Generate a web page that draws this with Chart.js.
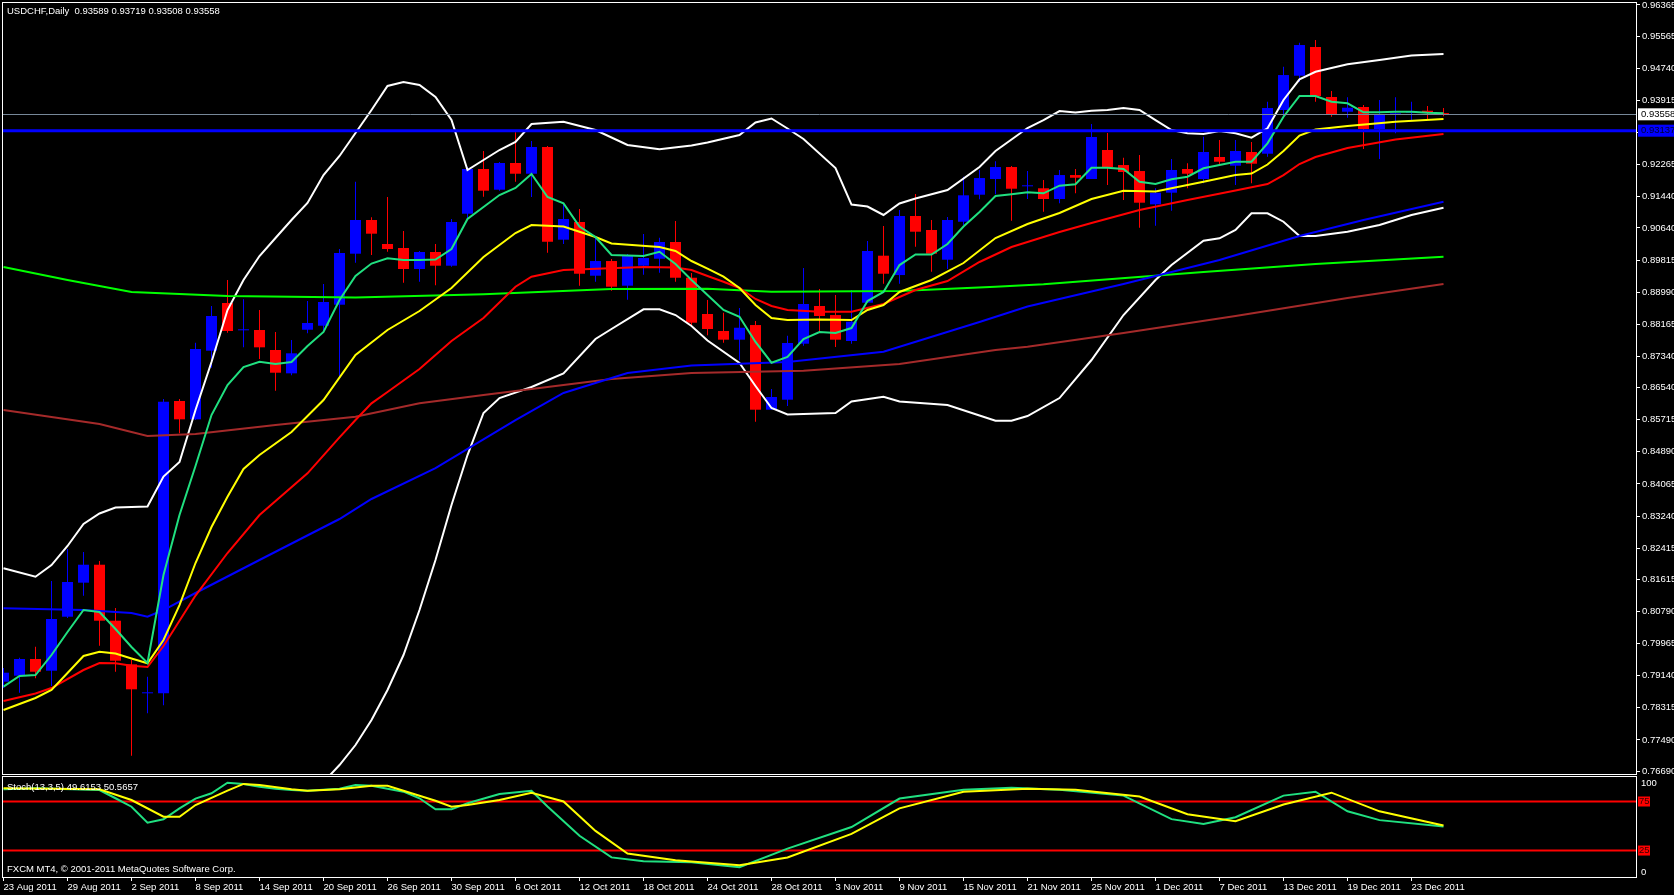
<!DOCTYPE html>
<html>
<head>
<meta charset="utf-8">
<script src="https://cdn.jsdelivr.net/npm/chart.js@4.4.1/dist/chart.umd.min.js"></script>
<style>
  html, body { margin: 0; padding: 0; background: #000; }
  body { width: 1674px; height: 895px; position: relative; overflow: hidden; }
  #mainWrap { position: absolute; left: 0; top: 0; width: 1674px; height: 775px; }
  #stochWrap { position: absolute; left: 0; top: 776px; width: 1674px; height: 119px; }
</style>
</head>
<body>
<div id="mainWrap"><canvas id="mainChart"></canvas></div>
<div id="stochWrap"><canvas id="stochChart"></canvas></div>
<script>
// USDCHF daily, 23 Aug 2011 .. 27 Dec 2011 (bar index 0..90)
const symbolTitle = 'USDCHF,Daily  0.93589 0.93719 0.93508 0.93558';
const stochTitle = 'Stoch(13,3,5) 49.6153 50.5657';
const footerText = 'FXCM MT4, \u00A9 2001-2011 MetaQuotes Software Corp.';

const dateTickBars = [0, 4, 8, 12, 16, 20, 24, 28, 32, 36, 40, 44, 48, 52, 56, 60, 64, 68, 72, 76, 80, 84, 88];
const dateLabels = ['23 Aug 2011', '29 Aug 2011', '2 Sep 2011', '8 Sep 2011', '14 Sep 2011', '20 Sep 2011',
  '26 Sep 2011', '30 Sep 2011', '6 Oct 2011', '12 Oct 2011', '18 Oct 2011', '24 Oct 2011', '28 Oct 2011',
  '3 Nov 2011', '9 Nov 2011', '15 Nov 2011', '21 Nov 2011', '25 Nov 2011', '1 Dec 2011', '7 Dec 2011',
  '13 Dec 2011', '19 Dec 2011', '23 Dec 2011'];

const priceTicks = [0.96365, 0.95565, 0.94740, 0.93915, 0.93090, 0.92265, 0.91440, 0.90640, 0.89815, 0.88990,
  0.88165, 0.87340, 0.86540, 0.85715, 0.84890, 0.84065, 0.83240, 0.82415, 0.81615, 0.80790, 0.79965,
  0.79140, 0.78315, 0.77490, 0.76690];

const opens = [0.78987, 0.79141, 0.79570, 0.79269, 0.80656, 0.81530, 0.81991, 0.80553, 0.79433, 0.78689,
  0.78689, 0.86195, 0.85725, 0.87487, 0.88712, 0.88011, 0.88019, 0.87505, 0.86906, 0.88026,
  0.88129, 0.88668, 0.89978, 0.90843, 0.90227, 0.90124, 0.89585, 0.90022, 0.89670, 0.91005,
  0.92153, 0.91622, 0.92307, 0.92032, 0.92718, 0.90338, 0.90792, 0.89413, 0.89790, 0.89157,
  0.89670, 0.89849, 0.90279, 0.89361, 0.88429, 0.87993, 0.87770, 0.88146, 0.85972, 0.86229,
  0.87667, 0.88635, 0.88403, 0.87736, 0.88720, 0.89927, 0.89430, 0.90946, 0.90587, 0.89824,
  0.90799, 0.91493, 0.91897, 0.92204, 0.91709, 0.91658, 0.91383, 0.91998, 0.91897, 0.92641,
  0.92255, 0.92101, 0.91246, 0.91545, 0.92153, 0.91897, 0.92461, 0.92238, 0.92590, 0.92546,
  0.93668, 0.94549, 0.95286, 0.94002, 0.93624, 0.93745, 0.93180, 0.93540, 0.93599, 0.93650,
  0.93589];
const highs = [0.79338, 0.79603, 0.79886, 0.81573, 0.82395, 0.82318, 0.82086, 0.80879, 0.79544, 0.79115,
  0.86247, 0.86247, 0.87693, 0.88635, 0.89303, 0.88807, 0.88532, 0.87968, 0.87762, 0.88763,
  0.89200, 0.90099, 0.91827, 0.90912, 0.91434, 0.90561, 0.90047, 0.90227, 0.90869, 0.92204,
  0.92615, 0.92333, 0.93096, 0.92872, 0.92744, 0.91254, 0.91126, 0.90389, 0.89842, 0.89970,
  0.90484, 0.90389, 0.90817, 0.89482, 0.88789, 0.88463, 0.88583, 0.88249, 0.86504, 0.87873,
  0.89610, 0.89072, 0.88917, 0.89046, 0.90304, 0.90689, 0.91100, 0.91511, 0.90843, 0.90920,
  0.91955, 0.92127, 0.92351, 0.92230, 0.92101, 0.91871, 0.92127, 0.92153, 0.93308, 0.93078,
  0.92443, 0.92512, 0.91658, 0.92410, 0.92299, 0.92983, 0.92898, 0.92898, 0.92847, 0.93881,
  0.94780, 0.95397, 0.95466, 0.94156, 0.93994, 0.93796, 0.93925, 0.93994, 0.93881, 0.93771,
  0.93719];
const lows = [0.78825, 0.78705, 0.79074, 0.78877, 0.80622, 0.81196, 0.79912, 0.79243, 0.77087, 0.78175,
  0.78381, 0.85366, 0.85707, 0.87050, 0.87950, 0.87574, 0.87274, 0.86460, 0.86855, 0.87934,
  0.87950, 0.86803, 0.89747, 0.89944, 0.90029, 0.89234, 0.89259, 0.89167, 0.89644, 0.90869,
  0.91442, 0.91596, 0.91827, 0.91434, 0.90004, 0.90227, 0.89157, 0.89259, 0.89028, 0.88797,
  0.89438, 0.89490, 0.89259, 0.88147, 0.87883, 0.87693, 0.87248, 0.85663, 0.85972, 0.86067,
  0.87616, 0.87993, 0.87582, 0.87667, 0.88712, 0.89208, 0.89208, 0.90158, 0.89515, 0.89585,
  0.90714, 0.91375, 0.91503, 0.90825, 0.91383, 0.91056, 0.91272, 0.91529, 0.91897, 0.91742,
  0.91357, 0.90645, 0.90697, 0.91082, 0.91658, 0.91786, 0.92281, 0.91742, 0.91786, 0.92469,
  0.93496, 0.94395, 0.93881, 0.93496, 0.93470, 0.92667, 0.92410, 0.93070, 0.93411, 0.93429,
  0.93508];
const closes = [0.79218, 0.79570, 0.79243, 0.80597, 0.81548, 0.81991, 0.80553, 0.79526, 0.78792, 0.78690,
  0.86177, 0.85725, 0.87531, 0.88378, 0.87993, 0.88012, 0.87574, 0.86922, 0.87420, 0.88198,
  0.88738, 0.89996, 0.90843, 0.90492, 0.90099, 0.89585, 0.90022, 0.89670, 0.90792, 0.92153,
  0.91596, 0.92307, 0.92032, 0.92718, 0.90286, 0.90869, 0.89464, 0.89790, 0.89131, 0.89919,
  0.89867, 0.90279, 0.89361, 0.88206, 0.88044, 0.87770, 0.88077, 0.85972, 0.86298, 0.87685,
  0.88686, 0.88378, 0.87770, 0.88231, 0.90047, 0.89464, 0.90946, 0.90543, 0.89978, 0.90843,
  0.91478, 0.91921, 0.92204, 0.91647, 0.91710, 0.91383, 0.91998, 0.91929, 0.92975, 0.92204,
  0.92076, 0.91288, 0.91545, 0.92127, 0.92032, 0.92590, 0.92340, 0.92615, 0.92289, 0.93719,
  0.94566, 0.95337, 0.94028, 0.93565, 0.93727, 0.93180, 0.93565, 0.93583, 0.93642, 0.93617,
  0.93558];

// fast moving average, one value per bar
const fastMA = [0.78859, 0.79133, 0.79159, 0.79672, 0.80264, 0.80828, 0.80777, 0.80340, 0.79878, 0.79467,
  0.81726, 0.83267, 0.84526, 0.85835, 0.86606, 0.87068, 0.87204, 0.87145, 0.87197, 0.87608,
  0.87968, 0.88789, 0.89405, 0.89726, 0.89860, 0.89816, 0.89816, 0.89829, 0.90099, 0.90869,
  0.91177, 0.91485, 0.91665, 0.92024, 0.91434, 0.91272, 0.90676, 0.90407, 0.89944, 0.89932,
  0.89919, 0.90029, 0.89713, 0.89303, 0.88917, 0.88532, 0.88360, 0.87711, 0.87179, 0.87325,
  0.87788, 0.87968, 0.87942, 0.88069, 0.88763, 0.88995, 0.89687, 0.89957, 0.89957, 0.90227,
  0.90676, 0.91049, 0.91460, 0.91503, 0.91555, 0.91529, 0.91725, 0.91761, 0.92186, 0.92186,
  0.92153, 0.91827, 0.91768, 0.91888, 0.91955, 0.92171, 0.92255, 0.92340, 0.92340, 0.92813,
  0.93496, 0.94028, 0.94028, 0.93881, 0.93840, 0.93609, 0.93609, 0.93625, 0.93625, 0.93599,
  0.93584];

// [bar, value] readings for the slower lines
const yellowMA = [[0, 0.78260], [2, 0.78568], [3, 0.78774], [4, 0.79210], [5, 0.79647], [6, 0.79757], [7, 0.79711],
  [8, 0.79582], [9, 0.79459], [10, 0.80058], [11, 0.80955], [12, 0.82035], [13, 0.82960], [14, 0.83738],
  [15, 0.84449], [16, 0.84808], [18, 0.85400], [20, 0.86221], [22, 0.87380], [23, 0.87700], [24, 0.88019],
  [26, 0.88506], [28, 0.89097], [30, 0.89893], [32, 0.90510], [33, 0.90714], [35, 0.90676], [37, 0.90407],
  [38, 0.90240], [41, 0.90150], [42, 0.90047], [43, 0.89790], [44, 0.89597], [45, 0.89387], [46, 0.89097],
  [47, 0.88660], [48, 0.88326], [49, 0.88275], [51, 0.88288], [53, 0.88275], [54, 0.88532], [55, 0.88660],
  [56, 0.88995], [58, 0.89303], [60, 0.89739], [62, 0.90381], [64, 0.90740], [66, 0.91023], [68, 0.91383],
  [70, 0.91596], [72, 0.91575], [75, 0.91827], [77, 0.91998], [78, 0.92037], [79, 0.92268], [80, 0.92615],
  [81, 0.93013], [82, 0.93167], [84, 0.93257], [87, 0.93368], [90, 0.93437]];
const redMA = [[0, 0.78491], [2, 0.78684], [3, 0.78825], [5, 0.79287], [6, 0.79467], [7, 0.79459], [8, 0.79398],
  [9, 0.79364], [10, 0.79904], [12, 0.81200], [14, 0.82292], [16, 0.83267], [19, 0.84338], [21, 0.85263],
  [22, 0.85707], [23, 0.86136], [24, 0.86427], [26, 0.87017], [28, 0.87736], [30, 0.88326], [32, 0.89131],
  [33, 0.89387], [35, 0.89559], [40, 0.89636], [42, 0.89623], [43, 0.89559], [44, 0.89405], [45, 0.89259],
  [46, 0.89098], [47, 0.88815], [48, 0.88635], [49, 0.88532], [51, 0.88488], [53, 0.88488], [55, 0.88686],
  [57, 0.89046], [59, 0.89277], [61, 0.89765], [63, 0.90150], [64, 0.90279], [66, 0.90536], [68, 0.90766],
  [71, 0.91100], [74, 0.91357], [77, 0.91601], [79, 0.91768], [80, 0.91998], [81, 0.92281], [82, 0.92461],
  [84, 0.92692], [87, 0.92911], [90, 0.93052]];
const blueMA = [[0, 0.80872], [5, 0.80828], [8, 0.80751], [9, 0.80656], [10, 0.80828], [12, 0.81265], [16, 0.82112],
  [21, 0.83165], [23, 0.83679], [27, 0.84474], [32, 0.85707], [35, 0.86401], [39, 0.86914], [43, 0.87107],
  [49, 0.87197], [55, 0.87461], [61, 0.88224], [64, 0.88622], [70, 0.89200], [76, 0.89816], [81, 0.90433],
  [85, 0.90843], [90, 0.91313]];
const limeMA = [[0, 0.89636], [4, 0.89303], [8, 0.88995], [14, 0.88892], [22, 0.88853], [30, 0.88936], [38, 0.89072],
  [44, 0.89080], [48, 0.89002], [56, 0.89020], [62, 0.89131], [65, 0.89192], [75, 0.89508], [82, 0.89713],
  [90, 0.89901]];
const brownMA = [[0, 0.85964], [3, 0.85784], [6, 0.85604], [9, 0.85297], [12, 0.85348], [17, 0.85579], [22, 0.85792],
  [26, 0.86136], [30, 0.86349], [38, 0.86761], [43, 0.86914], [50, 0.86973], [56, 0.87145], [62, 0.87505],
  [64, 0.87590], [70, 0.87942], [77, 0.88378], [84, 0.88840], [90, 0.89200]];
const bandUpper = [[0, 0.81899], [2, 0.81683], [3, 0.81983], [4, 0.82472], [5, 0.83036], [6, 0.83306], [7, 0.83460],
  [8, 0.83473], [9, 0.83486], [10, 0.84256], [11, 0.84629], [12, 0.85964], [13, 0.87197], [14, 0.88532],
  [15, 0.89303], [16, 0.89919], [17, 0.90381], [18, 0.90843], [19, 0.91280], [20, 0.91998], [21, 0.92487],
  [22, 0.93078], [23, 0.93668], [24, 0.94285], [25, 0.94388], [26, 0.94311], [27, 0.94002], [28, 0.93411],
  [29, 0.92127], [30, 0.92384], [31, 0.92641], [32, 0.92847], [33, 0.93308], [35, 0.93367], [37, 0.93155],
  [39, 0.92770], [41, 0.92659], [43, 0.92757], [44, 0.92834], [46, 0.93026], [47, 0.93347], [48, 0.93450],
  [49, 0.93193], [50, 0.92924], [52, 0.92178], [53, 0.91241], [54, 0.91190], [55, 0.90972], [56, 0.91267],
  [57, 0.91396], [59, 0.91614], [61, 0.92204], [62, 0.92615], [64, 0.93206], [65, 0.93411], [66, 0.93642],
  [67, 0.93604], [68, 0.93650], [69, 0.93668], [70, 0.93719], [71, 0.93668], [72, 0.93411], [73, 0.93155],
  [74, 0.93070], [75, 0.93052], [76, 0.93129], [77, 0.93070], [78, 0.92957], [79, 0.93198], [80, 0.93925],
  [81, 0.94456], [82, 0.94651], [84, 0.94841], [86, 0.94952], [88, 0.95068], [90, 0.95106]];
const bandLower = [[20, 0.76410], [21, 0.76847], [22, 0.77361], [23, 0.78003], [24, 0.78774], [25, 0.79672],
  [26, 0.80828], [27, 0.82112], [28, 0.83524], [29, 0.84808], [30, 0.85887], [31, 0.86272], [33, 0.86555],
  [35, 0.86906], [37, 0.87788], [38, 0.88044], [40, 0.88550], [41, 0.88550], [42, 0.88403], [43, 0.88121],
  [44, 0.87749], [46, 0.87171], [47, 0.86581], [48, 0.86015], [49, 0.85848], [52, 0.85887], [53, 0.86182],
  [55, 0.86306], [56, 0.86182], [59, 0.86092], [61, 0.85822], [62, 0.85689], [63, 0.85689], [64, 0.85810],
  [66, 0.86272], [68, 0.87248], [70, 0.88403], [72, 0.89303], [73, 0.89687], [75, 0.90312], [76, 0.90374],
  [77, 0.90587], [78, 0.91015], [79, 0.91015], [80, 0.90799], [81, 0.90433], [82, 0.90433], [84, 0.90543],
  [86, 0.90714], [88, 0.90972], [90, 0.91159]];

const bidPrice = 0.93558;
const levelPrice = 0.93137;

const stochMain = [[0, 87.4], [2, 88.5], [6, 86.7], [7, 78.3], [8, 69.7], [9, 53.4], [10, 56.8], [11, 68], [12, 78],
  [13, 83.4], [14, 94.2], [15, 92.9], [16, 90.1], [17, 88], [18, 86.7], [19, 86], [21, 88.1], [22, 91.8], [23, 91.1],
  [25, 85], [26, 78.3], [27, 67], [28, 67], [29, 73.2], [31, 82.7], [33, 86], [34, 70], [36, 40], [38, 18], [40, 14],
  [43, 13], [46, 8], [49, 27], [53, 49], [56, 78], [60, 87], [63, 89], [66, 87], [70, 81], [73, 57], [75, 52],
  [77, 59], [80, 81], [82, 85], [84, 65], [86, 56], [90, 49.6153]];
const stochSignal = [[0, 88.5], [6, 87.4], [8, 76.5], [10, 59.5], [11, 59.5], [12, 71.4], [14, 86], [15, 92.9],
  [16, 91.8], [18, 87.4], [19, 86], [21, 87.4], [23, 91.1], [24, 91.1], [25, 86], [27, 75.8], [28, 69.7], [29, 71.4],
  [31, 76.5], [33, 84], [35, 75], [37, 45], [39, 22], [42, 15], [46, 10], [49, 18], [53, 42], [56, 68], [60, 85],
  [64, 88], [67, 87], [71, 80], [74, 62], [77, 55], [80, 72], [83, 84], [86, 65], [90, 50.5657]];
const stochLevels = [75, 25];

// ---- layout / style ----
const FONT = "'Liberation Sans', Arial, sans-serif";
const AXIS_W = 37;
const X_MIN = -0.09375;
const X_MAX = 102.09375;
const BULL = '#0000ff';
const BEAR = '#ff0000';

Chart.defaults.font.family = FONT;
Chart.defaults.font.size = 9.5;
Chart.defaults.color = '#ffffff';

const pts = (pairs) => pairs.map(([x, y]) => ({ x, y }));
const lineSet = (data, color, order) => ({
  type: 'line', data, borderColor: color, borderWidth: 2, pointRadius: 0,
  tension: 0, fill: false, order,
});
const candleColors = opens.map((o, i) => (closes[i] >= o ? BULL : BEAR));

const framePlugin = {
  id: 'frame',
  afterDraw(chart) {
    const { ctx, chartArea: a } = chart;
    ctx.save();
    ctx.strokeStyle = '#ffffff';
    ctx.lineWidth = 1;
    ctx.strokeRect(a.left + 0.5, a.top + 0.5, a.right - a.left - 1, a.bottom - a.top - 1);
    ctx.restore();
  },
};

const textPlugin = (lines) => ({
  id: 'texts',
  afterDraw(chart) {
    const { ctx } = chart;
    ctx.save();
    ctx.font = `9.5px ${FONT}`;
    ctx.fillStyle = '#ffffff';
    ctx.textBaseline = 'middle';
    ctx.textAlign = 'left';
    lines.forEach(([t, x, y]) => ctx.fillText(t, x, y));
    ctx.restore();
  },
});

const priceLinesPlugin = {
  id: 'priceLines',
  afterDatasetsDraw(chart) {
    const { ctx, chartArea: a, scales: { y } } = chart;
    ctx.save();
    ctx.beginPath();
    const yb = Math.round(y.getPixelForValue(bidPrice)) + 0.5;
    ctx.strokeStyle = '#778899';
    ctx.lineWidth = 1;
    ctx.moveTo(a.left, yb);
    ctx.lineTo(a.right, yb);
    ctx.stroke();
    ctx.beginPath();
    const yl = y.getPixelForValue(levelPrice);
    ctx.strokeStyle = '#0000ff';
    ctx.lineWidth = 3;
    ctx.moveTo(a.left, yl);
    ctx.lineTo(a.right, yl);
    ctx.stroke();
    ctx.restore();
  },
  afterDraw(chart) {
    const { ctx, chartArea: a, scales: { y } } = chart;
    ctx.save();
    ctx.font = `9.5px ${FONT}`;
    ctx.textBaseline = 'middle';
    [[bidPrice, '#ffffff', '#000000'], [levelPrice, '#0000ff', '#000033']].forEach(([v, bg, fg]) => {
      const py = y.getPixelForValue(v);
      ctx.fillStyle = bg;
      ctx.fillRect(a.right + 1, py - 6, AXIS_W, 12);
      ctx.fillStyle = fg;
      ctx.fillText(v.toFixed(5), a.right + 4, py);
    });
    ctx.restore();
  },
};

new Chart(document.getElementById('mainChart'), {
  type: 'bar',
  data: {
    datasets: [
      lineSet(fastMA.map((y, x) => ({ x, y })), '#20e080', 1),
      lineSet(pts(yellowMA), '#ffff00', 2),
      lineSet(pts(redMA), '#ff0000', 3),
      lineSet(pts(blueMA), '#0000ff', 4),
      lineSet(pts(limeMA), '#00ff00', 5),
      lineSet(pts(brownMA), '#a52a2a', 6),
      lineSet(pts(bandUpper), '#ffffff', 7),
      lineSet(pts(bandLower), '#ffffff', 8),
      {
        type: 'bar', order: 20, grouped: false, barThickness: 11, minBarLength: 1,
        inflateAmount: 0, borderWidth: 0, backgroundColor: candleColors,
        data: opens.map((o, i) => ({ x: i, y: [o, closes[i]] })),
      },
      {
        type: 'bar', order: 21, grouped: false, barThickness: 1,
        inflateAmount: 0, borderWidth: 0, backgroundColor: candleColors,
        data: lows.map((l, i) => ({ x: i, y: [l, highs[i]] })),
      },
    ],
  },
  options: {
    responsive: true,
    maintainAspectRatio: false,
    animation: false,
    events: [],
    layout: { padding: { left: 2, top: 2, right: 0, bottom: 0 } },
    plugins: { legend: { display: false }, tooltip: { enabled: false } },
    scales: {
      x: { type: 'linear', min: X_MIN, max: X_MAX, offset: false, display: false },
      y: {
        type: 'linear', position: 'right', min: 0.76591, max: 0.96442,
        afterBuildTicks: (s) => { s.ticks = priceTicks.map((v) => ({ value: v })); },
        afterFit: (s) => { s.width = AXIS_W; s.paddingTop = 0; s.paddingBottom = 0; },
        ticks: { color: '#ffffff', padding: 2, autoSkip: false, callback: (v) => v.toFixed(5) },
        grid: { display: true, drawOnChartArea: false, drawTicks: true, tickLength: 3, color: '#ffffff' },
        border: { display: false },
      },
    },
  },
  plugins: [priceLinesPlugin, framePlugin, textPlugin([[symbolTitle, 7, 11]])],
});

const stochPlugin = {
  id: 'stochLevels',
  beforeDatasetsDraw(chart) {
    const { ctx, chartArea: a, scales: { y } } = chart;
    ctx.save();
    ctx.strokeStyle = '#ff0000';
    ctx.lineWidth = 2;
    stochLevels.forEach((v) => {
      const py = y.getPixelForValue(v);
      ctx.beginPath();
      ctx.moveTo(a.left, py);
      ctx.lineTo(a.right, py);
      ctx.stroke();
    });
    ctx.restore();
  },
  afterDraw(chart) {
    const { ctx, chartArea: a, scales: { y } } = chart;
    ctx.save();
    ctx.font = `9.5px ${FONT}`;
    ctx.textBaseline = 'middle';
    stochLevels.forEach((v) => {
      const py = y.getPixelForValue(v);
      ctx.fillStyle = '#ff0000';
      ctx.fillRect(a.right + 1, py - 5, 12, 10);
      ctx.fillStyle = '#330000';
      ctx.fillText(String(v), a.right + 2, py);
    });
    ctx.fillStyle = '#ffffff';
    ctx.fillText('100', a.right + 4, a.top + 7);
    ctx.fillText('0', a.right + 4, a.bottom - 6);
    ctx.restore();
  },
};

new Chart(document.getElementById('stochChart'), {
  type: 'line',
  data: {
    datasets: [
      lineSet(pts(stochSignal), '#ffff00', 1),
      lineSet(pts(stochMain), '#20e080', 2),
    ],
  },
  options: {
    responsive: true,
    maintainAspectRatio: false,
    animation: false,
    events: [],
    layout: { padding: { left: 2, top: 0, right: 0, bottom: 0 } },
    plugins: { legend: { display: false }, tooltip: { enabled: false } },
    scales: {
      x: {
        type: 'linear', min: X_MIN, max: X_MAX, offset: false,
        afterBuildTicks: (s) => { s.ticks = dateTickBars.map((v) => ({ value: v })); },
        afterFit: (s) => { s.height = 17; s.paddingLeft = 0; s.paddingRight = 0; },
        ticks: { autoSkip: false, maxRotation: 0, minRotation: 0, align: 'start', padding: 1,
          color: '#ffffff', callback: (v, i) => dateLabels[i] },
        grid: { display: true, drawOnChartArea: false, drawTicks: true, tickLength: 3, color: '#ffffff' },
        border: { display: false },
      },
      y: {
        type: 'linear', position: 'right', min: -3, max: 101,
        ticks: { display: false },
        grid: { display: false },
        border: { display: false },
        afterFit: (s) => { s.width = AXIS_W; s.paddingTop = 0; s.paddingBottom = 0; },
      },
    },
  },
  plugins: [stochPlugin, framePlugin, textPlugin([[stochTitle, 7, 11], [footerText, 7, 93]])],
});
</script>
</body>
</html>
